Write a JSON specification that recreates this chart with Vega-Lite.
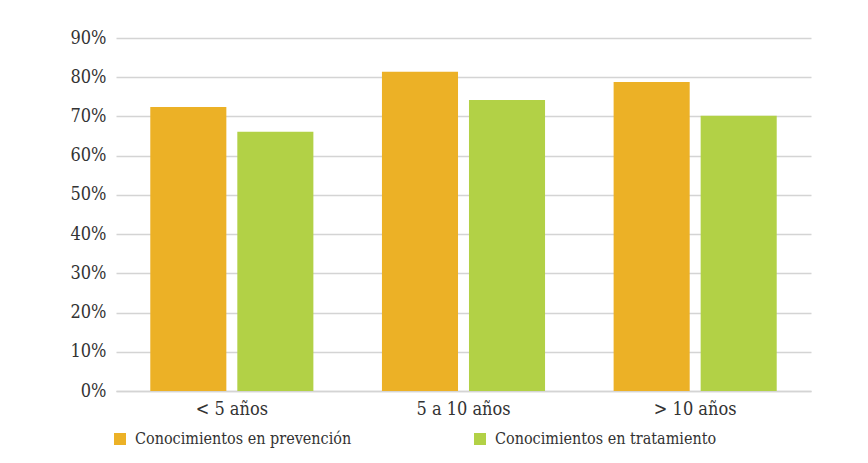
{
  "$schema": "https://vega.github.io/schema/vega-lite/v6.json",
  "autosize": {"type": "none"},
  "width": 695,
  "height": 353,
  "padding": {"left": 116, "top": 38, "right": 57, "bottom": 72},
  "background": "#ffffff",
  "config": {
    "view": {"stroke": null},
    "font": "DejaVu Serif Condensed",
    "axis": {"labelFont": "DejaVu Serif Condensed"},
    "legend": {"labelFont": "DejaVu Serif Condensed"}
  },
  "data": {
    "values": [
      {"grupo": "< 5 años", "serie": "Conocimientos en prevención", "valor": 0.724},
      {"grupo": "< 5 años", "serie": "Conocimientos en tratamiento", "valor": 0.661},
      {"grupo": "5 a 10 años", "serie": "Conocimientos en prevención", "valor": 0.814},
      {"grupo": "5 a 10 años", "serie": "Conocimientos en tratamiento", "valor": 0.742},
      {"grupo": "> 10 años", "serie": "Conocimientos en prevención", "valor": 0.788},
      {"grupo": "> 10 años", "serie": "Conocimientos en tratamiento", "valor": 0.702}
    ]
  },
  "mark": {"type": "bar"},
  "encoding": {
    "x": {
      "field": "grupo",
      "type": "nominal",
      "sort": ["< 5 años", "5 a 10 años", "> 10 años"],
      "scale": {"paddingInner": 0.296, "paddingOuter": 0.148},
      "axis": {
        "title": null,
        "labelAngle": 0,
        "ticks": false,
        "labelFontSize": 18,
        "labelColor": "#333333",
        "labelPadding": 9,
        "domainColor": "#d4d4d4",
        "domainWidth": 1.5
      }
    },
    "xOffset": {
      "field": "serie",
      "type": "nominal",
      "scale": {"paddingInner": 0.126, "paddingOuter": 0}
    },
    "y": {
      "field": "valor",
      "type": "quantitative",
      "scale": {"domain": [0, 0.9]},
      "axis": {
        "title": null,
        "format": ".0%",
        "values": [0, 0.1, 0.2, 0.3, 0.4, 0.5, 0.6, 0.7, 0.8, 0.9],
        "domain": false,
        "ticks": false,
        "labelFontSize": 18,
        "labelColor": "#333333",
        "labelPadding": 10,
        "gridColor": "#d4d4d4",
        "gridWidth": 1.5
      }
    },
    "color": {
      "field": "serie",
      "type": "nominal",
      "scale": {"range": ["#ecb126", "#b2d146"]},
      "legend": {
        "title": null,
        "orient": "none",
        "legendX": -4,
        "legendY": 393,
        "direction": "horizontal",
        "columns": 2,
        "columnPadding": 120,
        "symbolType": "square",
        "symbolSize": 144,
        "symbolStrokeWidth": 0,
        "symbolOpacity": 1,
        "labelFontSize": 16,
        "labelColor": "#333333",
        "labelOffset": 7,
        "labelLimit": 400
      }
    }
  }
}
